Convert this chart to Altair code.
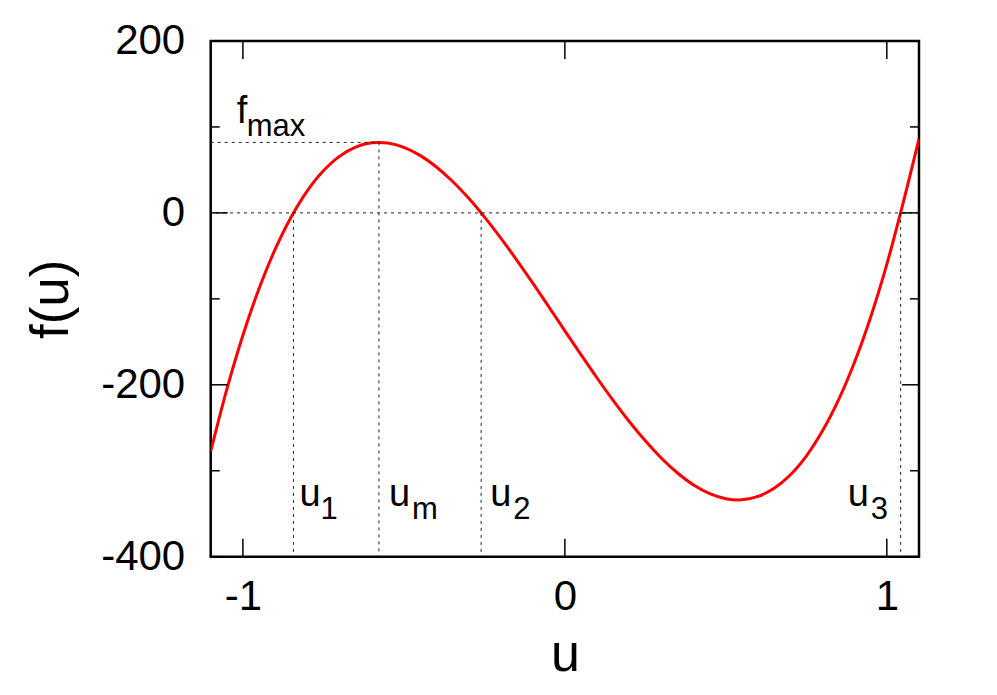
import altair as alt
import pandas as pd

# ---- data ----
u_vals = [-1.10, -1.05, -1.00, -0.95, -0.90, -0.85, -0.80, -0.75, -0.70, -0.65,
          -0.60, -0.55, -0.50, -0.45, -0.40, -0.35, -0.30, -0.25, -0.20, -0.15,
          -0.10, -0.05, 0.00, 0.05, 0.10, 0.15, 0.20, 0.25, 0.30, 0.35,
          0.40, 0.45, 0.50, 0.55, 0.60, 0.65, 0.70, 0.75, 0.80, 0.85,
          0.90, 0.95, 1.00, 1.05, 1.10]
f_vals = [-277.6, -205.4, -142.4, -88.3, -42.5, -4.7, 25.7, 49.0, 65.8, 76.5,
          81.5, 81.2, 76.2, 66.9, 53.7, 37.1, 17.5, -4.6, -28.8, -54.6,
          -81.5, -109.2, -137.2, -164.9, -192.1, -218.1, -242.7, -265.2, -285.4, -302.6,
          -316.5, -326.6, -332.5, -333.8, -329.9, -320.4, -304.9, -282.9, -253.9, -217.6,
          -173.5, -121.1, -59.9, 10.4, 86.0]

x_tick_vals = [-1, 0, 1]
y_major_vals = [200, 0, -200, -400]
y_minor_vals = [100, -100, -300]

root_names = ["1", "2", "3"]
root_vals = [-0.843, -0.26, 1.043]
u_m = -0.5775
f_max = 82.0

x_min, x_max = -1.1, 1.1
y_min, y_max = -400, 200

# ---- layout ----
W, H = 708.3, 515.7
FONT = "Liberation Sans"
TICK_FS = 42
MAIN_FS = 38
SUB_FS = 31

xs = alt.Scale(domain=[x_min, x_max], nice=False, zero=False)
ys = alt.Scale(domain=[y_min, y_max], nice=False, zero=False)

curve_df = pd.DataFrame({"u": u_vals, "f": f_vals})

curve = alt.Chart(curve_df).mark_line(
    color="#ff0000", strokeWidth=3, clip=True, interpolate="catmull-rom"
).encode(
    x=alt.X("u:Q", scale=xs,
            axis=alt.Axis(values=x_tick_vals, ticks=False, domain=False, grid=False,
                          labelExpr="toString(datum.value)", labelPadding=20,
                          labelFontSize=TICK_FS, labelFont=FONT, labelColor="black",
                          title="u", titleFontSize=52, titleFont=FONT,
                          titleFontWeight="normal", titleColor="black", titlePadding=12)),
    y=alt.Y("f:Q", scale=ys,
            axis=alt.Axis(values=y_major_vals, ticks=False, domain=False, grid=False,
                          labelExpr="toString(datum.value)", labelPadding=26,
                          labelFontSize=TICK_FS, labelFont=FONT, labelColor="black",
                          title="f(u)", titleFontSize=53, titleFont=FONT,
                          titleFontWeight="normal", titleColor="black", titlePadding=22)),
)

dot = dict(color="#222222", strokeWidth=1, strokeDash=[3, 4])

# horizontal zero line
zero_df = pd.DataFrame({"y": [0.0]})
zero_line = alt.Chart(zero_df).mark_rule(**dot).encode(
    y=alt.Y("y:Q", scale=ys)
)

# fmax horizontal line
fmax_df = pd.DataFrame({"x": [x_min], "x2": [u_m], "y": [f_max]})
fmax_line = alt.Chart(fmax_df).mark_rule(**dot).encode(
    x=alt.X("x:Q", scale=xs), x2="x2:Q",
    y=alt.Y("y:Q", scale=ys)
)

# vertical lines
vert_df = pd.DataFrame({
    "x": root_vals + [u_m],
    "ytop": [0.0, 0.0, 0.0, f_max],
    "ybot": [y_min] * 4,
})
vert_lines = alt.Chart(vert_df).mark_rule(**dot).encode(
    x=alt.X("x:Q", scale=xs),
    y=alt.Y("ytop:Q", scale=ys), y2="ybot:Q"
)

# ticks (inward, mirrored)
def ytick(vals, x0, x1):
    return alt.Chart(pd.DataFrame({"v": vals})).mark_rule(color="black", strokeWidth=1.5).encode(
        y=alt.Y("v:Q", scale=ys), x=alt.value(x0), x2=alt.value(x1))

def xtick(vals, y0, y1):
    return alt.Chart(pd.DataFrame({"v": vals})).mark_rule(color="black", strokeWidth=1.5).encode(
        x=alt.X("v:Q", scale=xs), y=alt.value(y0), y2=alt.value(y1))

tick_layers = [
    ytick(y_major_vals, 0, 17), ytick(y_minor_vals, 0, 9),
    ytick(y_major_vals, W, W - 17), ytick(y_minor_vals, W, W - 9),
    xtick(x_tick_vals, H, H - 18), xtick(x_tick_vals, 0, 18),
]

# labels: main letters and subscripts
lab_main_df = pd.DataFrame({
    "x": [x_min, root_vals[0], u_m, root_vals[1], root_vals[2]],
    "y": [104.6, -341.0, -341.0, -341.0, -341.0],
    "t": ["f", "u", "u", "u", "u"],
    "dx": [26, 6, 10, 9, -53],
})
lab_sub_df = pd.DataFrame({
    "x": [x_min, root_vals[0], u_m, root_vals[1], root_vals[2]],
    "y": [104.6, -341.0, -341.0, -341.0, -341.0],
    "t": ["max", root_names[0], "m", root_names[1], root_names[2]],
    "dx": [36, 27, 33, 32, -30],
})

def label_layer(df, size, dy):
    layers = []
    for _, r in df.iterrows():
        layers.append(
            alt.Chart(pd.DataFrame([r])).mark_text(
                font=FONT, fontSize=size, color="black", align="left",
                baseline="alphabetic", dx=float(r["dx"]), dy=dy
            ).encode(
                x=alt.X("x:Q", scale=xs),
                y=alt.Y("y:Q", scale=ys),
                text="t:N",
            )
        )
    return layers

labels = label_layer(lab_main_df, MAIN_FS, 0) + label_layer(lab_sub_df, SUB_FS, 13)

chart = alt.layer(
    curve, zero_line, fmax_line, vert_lines, *tick_layers, *labels
).properties(
    width=W, height=H,
    autosize=alt.AutoSizeParams(type="none"),
    padding={"left": 202.7, "top": 33, "right": 60, "bottom": 130},
).configure(
    background="white"
).configure_view(
    stroke="black", strokeWidth=2.5
)

chart.save("out.html", embed_options={"renderer": "svg", "actions": False})
